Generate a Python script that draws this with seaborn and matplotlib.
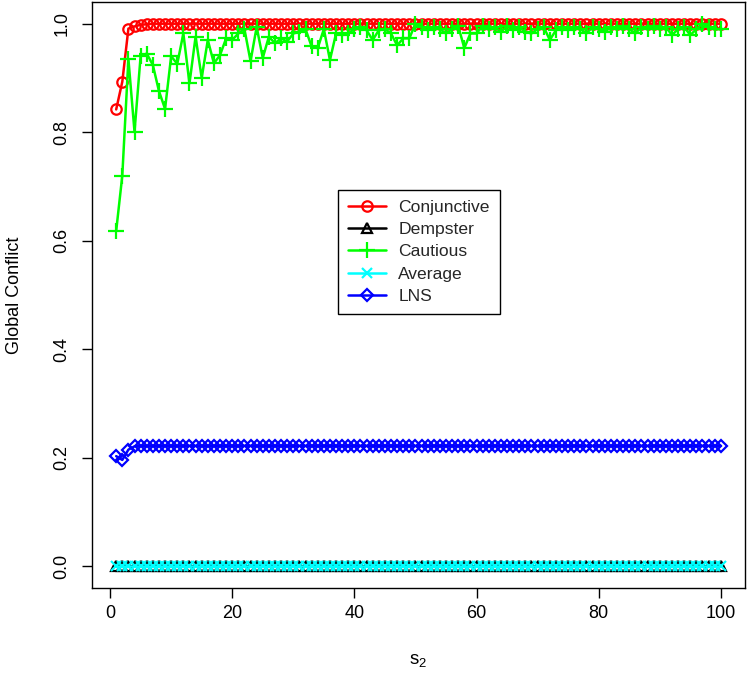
import matplotlib
matplotlib.use("Agg")
import matplotlib.pyplot as plt
import seaborn as sns
import pandas as pd

s2 = list(range(1, 101))

conjunctive = [
    0.842, 0.893, 0.991, 0.995, 0.998, 0.999, 1.0, 1.0, 1.0, 1.0,
    1.0, 1.0, 1.0, 1.0, 1.0, 1.0, 1.0, 1.0, 1.0, 1.0,
    1.0, 1.0, 1.0, 1.0, 1.0, 1.0, 1.0, 1.0, 1.0, 1.0,
    1.0, 1.0, 1.0, 1.0, 1.0, 1.0, 1.0, 1.0, 1.0, 1.0,
    1.0, 1.0, 1.0, 1.0, 1.0, 1.0, 1.0, 1.0, 1.0, 1.0,
    1.0, 1.0, 1.0, 1.0, 1.0, 1.0, 1.0, 1.0, 1.0, 1.0,
    1.0, 1.0, 1.0, 1.0, 1.0, 1.0, 1.0, 1.0, 1.0, 1.0,
    1.0, 1.0, 1.0, 1.0, 1.0, 1.0, 1.0, 1.0, 1.0, 1.0,
    1.0, 1.0, 1.0, 1.0, 1.0, 1.0, 1.0, 1.0, 1.0, 1.0,
    1.0, 1.0, 1.0, 1.0, 1.0, 1.0, 1.0, 1.0, 1.0, 1.0,
]

dempster = [
    0.0, 0.0, 0.0, 0.0, 0.0, 0.0, 0.0, 0.0, 0.0, 0.0,
    0.0, 0.0, 0.0, 0.0, 0.0, 0.0, 0.0, 0.0, 0.0, 0.0,
    0.0, 0.0, 0.0, 0.0, 0.0, 0.0, 0.0, 0.0, 0.0, 0.0,
    0.0, 0.0, 0.0, 0.0, 0.0, 0.0, 0.0, 0.0, 0.0, 0.0,
    0.0, 0.0, 0.0, 0.0, 0.0, 0.0, 0.0, 0.0, 0.0, 0.0,
    0.0, 0.0, 0.0, 0.0, 0.0, 0.0, 0.0, 0.0, 0.0, 0.0,
    0.0, 0.0, 0.0, 0.0, 0.0, 0.0, 0.0, 0.0, 0.0, 0.0,
    0.0, 0.0, 0.0, 0.0, 0.0, 0.0, 0.0, 0.0, 0.0, 0.0,
    0.0, 0.0, 0.0, 0.0, 0.0, 0.0, 0.0, 0.0, 0.0, 0.0,
    0.0, 0.0, 0.0, 0.0, 0.0, 0.0, 0.0, 0.0, 0.0, 0.0,
]

cautious = [
    0.618, 0.720, 0.935, 0.801, 0.940, 0.945, 0.924, 0.876, 0.843, 0.940,
    0.926, 0.982, 0.890, 0.976, 0.900, 0.970, 0.927, 0.942, 0.973, 0.970,
    0.982, 0.990, 0.931, 0.994, 0.937, 0.976, 0.964, 0.973, 0.967, 0.982,
    0.985, 0.990, 0.958, 0.955, 0.990, 0.933, 0.982, 0.979, 0.982, 0.990,
    0.994, 0.988, 0.970, 0.988, 0.990, 0.982, 0.960, 0.973, 0.973, 1.000,
    0.994, 0.988, 0.994, 0.990, 0.982, 0.990, 0.996, 0.955, 0.982, 0.982,
    0.996, 0.990, 0.994, 0.985, 0.996, 0.988, 0.994, 0.985, 0.982, 0.990,
    0.994, 0.970, 0.988, 0.994, 0.988, 0.994, 0.990, 0.982, 0.994, 0.990,
    0.985, 0.994, 0.990, 0.996, 0.990, 0.982, 0.994, 0.990, 0.996, 0.990,
    0.994, 0.979, 0.990, 0.994, 0.979, 0.990, 1.000, 0.994, 0.990, 0.990,
]

average = [
    0.0, 0.0, 0.0, 0.0, 0.0, 0.0, 0.0, 0.0, 0.0, 0.0,
    0.0, 0.0, 0.0, 0.0, 0.0, 0.0, 0.0, 0.0, 0.0, 0.0,
    0.0, 0.0, 0.0, 0.0, 0.0, 0.0, 0.0, 0.0, 0.0, 0.0,
    0.0, 0.0, 0.0, 0.0, 0.0, 0.0, 0.0, 0.0, 0.0, 0.0,
    0.0, 0.0, 0.0, 0.0, 0.0, 0.0, 0.0, 0.0, 0.0, 0.0,
    0.0, 0.0, 0.0, 0.0, 0.0, 0.0, 0.0, 0.0, 0.0, 0.0,
    0.0, 0.0, 0.0, 0.0, 0.0, 0.0, 0.0, 0.0, 0.0, 0.0,
    0.0, 0.0, 0.0, 0.0, 0.0, 0.0, 0.0, 0.0, 0.0, 0.0,
    0.0, 0.0, 0.0, 0.0, 0.0, 0.0, 0.0, 0.0, 0.0, 0.0,
    0.0, 0.0, 0.0, 0.0, 0.0, 0.0, 0.0, 0.0, 0.0, 0.0,
]

lns = [
    0.203, 0.196, 0.215, 0.221, 0.222, 0.222, 0.222, 0.222, 0.222, 0.222,
    0.222, 0.222, 0.222, 0.222, 0.222, 0.222, 0.222, 0.222, 0.222, 0.222,
    0.222, 0.222, 0.222, 0.222, 0.222, 0.222, 0.222, 0.222, 0.222, 0.222,
    0.222, 0.222, 0.222, 0.222, 0.222, 0.222, 0.222, 0.222, 0.222, 0.222,
    0.222, 0.222, 0.222, 0.222, 0.222, 0.222, 0.222, 0.222, 0.222, 0.222,
    0.222, 0.222, 0.222, 0.222, 0.222, 0.222, 0.222, 0.222, 0.222, 0.222,
    0.222, 0.222, 0.222, 0.222, 0.222, 0.222, 0.222, 0.222, 0.222, 0.222,
    0.222, 0.222, 0.222, 0.222, 0.222, 0.222, 0.222, 0.222, 0.222, 0.222,
    0.222, 0.222, 0.222, 0.222, 0.222, 0.222, 0.222, 0.222, 0.222, 0.222,
    0.222, 0.222, 0.222, 0.222, 0.222, 0.222, 0.222, 0.222, 0.222, 0.222,
]

series_names = ["Conjunctive", "Dempster", "Cautious", "Average", "LNS"]
series_values = [conjunctive, dempster, cautious, average, lns]
series_colors = ["#FF0000", "#000000", "#00FF00", "#00FFFF", "#0000FF"]
series_markers = ["o", "^", "+", "x", "D"]
series_msize = [7.5, 7, 11, 7, 6.5]

x_ticks = [0, 20, 40, 60, 80, 100]
y_ticks = [0.0, 0.2, 0.4, 0.6, 0.8, 1.0]
y_ticklabels = ["0.0", "0.2", "0.4", "0.6", "0.8", "1.0"]

sns.set_theme(style="white")
plt.rcParams["font.family"] = ["Liberation Sans", "DejaVu Sans"]
plt.rcParams["mathtext.fontset"] = "custom"
plt.rcParams["mathtext.rm"] = "Liberation Sans"
plt.rcParams["mathtext.it"] = "Liberation Sans"

fig = plt.figure(figsize=(7.47, 6.75), dpi=100)
ax = fig.add_axes([92 / 747, 1 - 588 / 675, 653 / 747, 586 / 675])

for name, vals, col, mk, ms in zip(series_names, series_values,
                                   series_colors, series_markers, series_msize):
    df = pd.DataFrame({"s2": s2, "value": vals})
    sns.lineplot(data=df, x="s2", y="value", ax=ax, color=col, linewidth=1.8,
                 marker=mk, markersize=ms, markerfacecolor="none",
                 markeredgecolor=col, markeredgewidth=1.6, label=name)

ax.set_xlim(1 - 0.04 * 99, 100 + 0.04 * 99)
ax.set_ylim(-0.04, 1.04)
ax.set_xticks(x_ticks)
ax.set_xticklabels([str(t) for t in x_ticks])
ax.set_yticks(y_ticks)
ax.set_yticklabels(y_ticklabels, rotation=90, va="center")

for sp in ax.spines.values():
    sp.set_visible(True)
    sp.set_color("black")
    sp.set_linewidth(1.0)

ax.tick_params(axis="both", which="major", direction="out", length=7.5,
               width=1.0, color="black", labelsize=13, labelcolor="black",
               bottom=True, left=True)
ax.tick_params(axis="x", pad=5)
ax.tick_params(axis="y", pad=8)

ax.set_xlabel("s$_2$", fontsize=13.5, color="black")
ax.set_ylabel("Global Conflict", fontsize=13, color="black")
ax.xaxis.set_label_coords(0.5, -0.11)
ax.yaxis.set_label_coords(-0.105, 0.5)

leg = ax.legend(loc="upper left", bbox_to_anchor=(338 / 747, 1 - 190 / 675),
                bbox_transform=fig.transFigure, borderaxespad=0, fontsize=12.6,
                frameon=True, fancybox=False, edgecolor="black",
                handlelength=2.2, handletextpad=0.7, labelspacing=0.4,
                borderpad=0.55)
leg.get_frame().set_linewidth(1.0)
leg.get_frame().set_alpha(1)

fig.savefig("out.png", dpi=100)
